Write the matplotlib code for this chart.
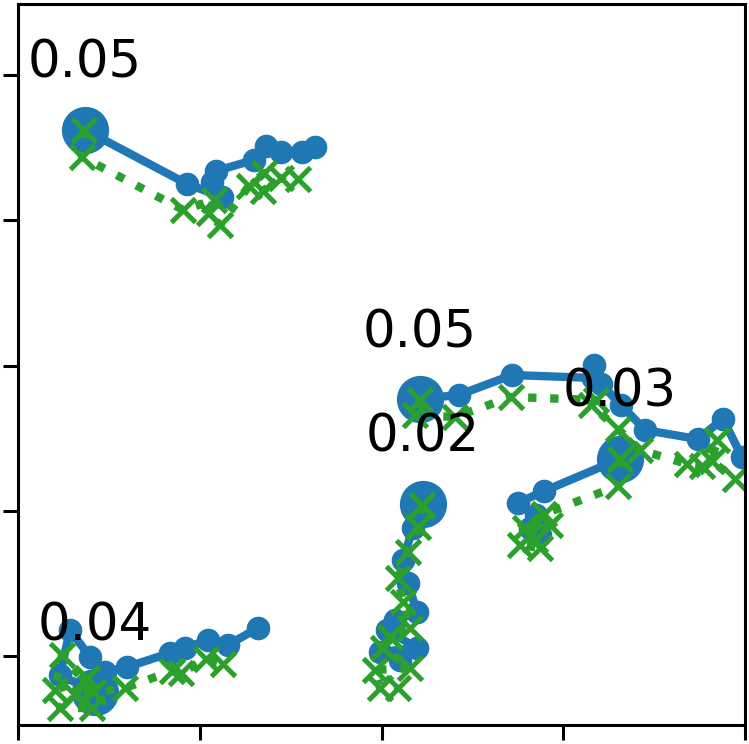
import matplotlib
matplotlib.use("Agg")
import matplotlib.pyplot as plt

BLUE = "#1f77b4"
GREEN = "#2ca02c"

# Trajectory labels
labels = ["0.05", "0.04", "0.02", "0.05", "0.03"]

# Blue (solid) trajectories
blue_x = [
    [0.369, 0.930, 1.122, 1.067, 1.089, 1.298, 1.365, 1.447, 1.563, 1.634],
    [0.424, 0.231, 0.286, 0.396, 0.479, 0.600, 0.836, 0.919, 1.045, 1.155, 1.320],
    [2.228, 2.173, 2.118, 2.146, 2.195, 2.074, 2.030, 2.195, 1.992, 2.102],
    [2.212, 2.426, 2.718, 3.164, 3.169, 3.208, 3.318, 3.450, 3.741, 3.879, 3.983],
    [3.312, 2.894, 2.751, 2.850, 2.817, 2.872],
]
blue_y = [
    [3.623, 3.251, 3.161, 3.264, 3.340, 3.416, 3.512, 3.471, 3.471, 3.506],
    [-0.248, -0.131, 0.179, -0.007, -0.110, -0.076, 0.021, 0.055, 0.110, 0.076, 0.193],
    [1.047, 0.882, 0.661, 0.503, 0.303, 0.248, 0.179, 0.055, 0.028, -0.028],
    [1.770, 1.798, 1.935, 1.915, 2.004, 1.873, 1.729, 1.556, 1.494, 1.632, 1.371],
    [1.357, 1.136, 1.054, 0.971, 0.882, 0.833],
]

# Green (dotted, x markers) trajectories
green_x = [
    [0.363, 0.352, 0.908, 1.078, 1.051, 1.111, 1.271, 1.354, 1.348, 1.447, 1.541],
    [0.413, 0.242, 0.204, 0.380, 0.231, 0.407, 0.314, 0.589, 0.847, 0.897, 1.034, 1.128],
    [2.223, 2.201, 2.146, 2.091, 2.118, 2.157, 2.047, 2.008, 2.157, 1.964, 1.992, 2.091],
    [2.212, 2.184, 2.404, 2.713, 3.180, 3.153, 3.301, 3.422, 3.681, 3.763, 3.846, 3.818, 3.945],
    [3.312, 3.301, 2.894, 2.790, 2.927, 2.845, 2.762, 2.872, 2.817],
]
green_y = [
    [3.623, 3.437, 3.072, 3.140, 3.051, 2.968, 3.237, 3.326, 3.203, 3.292, 3.285],
    [-0.248, 0.007, -0.234, -0.152, -0.358, -0.358, -0.269, -0.220, -0.103, -0.117, -0.021, -0.055],
    [1.040, 0.888, 0.716, 0.537, 0.372, 0.193, 0.131, 0.055, -0.083, -0.096, -0.220, -0.220],
    [1.763, 1.660, 1.646, 1.784, 1.763, 1.729, 1.563, 1.419, 1.322, 1.309, 1.488, 1.343, 1.219],
    [1.357, 1.171, 0.978, 0.882, 0.902, 0.799, 0.764, 0.744, 0.833],
]

fig = plt.figure(figsize=(7.49, 7.44), dpi=100)
ax = fig.add_axes([18 / 749, 19 / 744, 727 / 749, 721 / 744])

for bx, by in zip(blue_x, blue_y):
    ax.plot(bx, by, color=BLUE, lw=6, marker="o", ms=16, zorder=2)
    ax.plot(bx[:1], by[:1], color=BLUE, marker="o", ms=33, ls="none", zorder=2)

for gx, gy in zip(green_x, green_y):
    ax.plot(gx, gy, color=GREEN, lw=6, ls=":", marker="x", ms=17, mew=3.6, zorder=2.5)

for lab, bx, by in zip(labels, blue_x, blue_y):
    ax.text(bx[0], by[0] + 0.358, lab, ha="center", va="baseline", fontsize=37, color="black", zorder=3)

ax.set_xlim(0, 4)
ax.set_ylim(-0.475, 4.49)
ax.set_xticks([0, 1, 2, 3, 4])
ax.set_yticks([0, 1, 2, 3, 4])
ax.tick_params(labelleft=False, labelbottom=False, length=11, width=2.2)
for s in ax.spines.values():
    s.set_linewidth(2.2)

fig.savefig("out.png", dpi=100)
